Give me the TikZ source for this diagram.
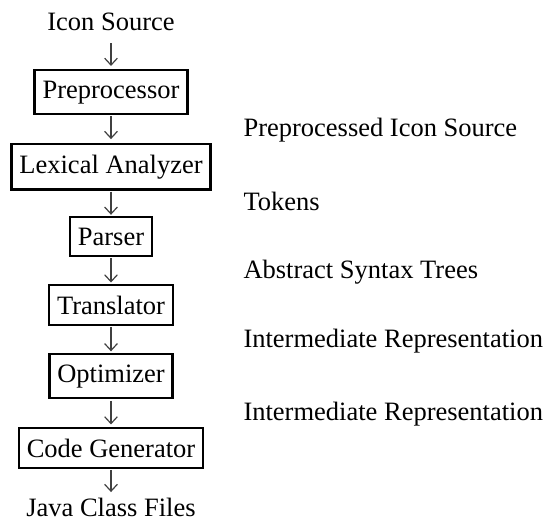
\documentclass[tikz,border=0pt]{standalone}
\usepackage{fontspec}
\setmainfont{Liberation Serif}
\usetikzlibrary{arrows.meta}
\begin{document}
\begin{tikzpicture}[x=0.3774pt,y=-0.3774pt,
  every node/.style={font=\fontsize{10}{12}\selectfont},
  stage/.style={draw,line width=0.9pt,inner xsep=3pt,inner ysep=4pt,anchor=base},
  plain/.style={inner sep=0pt,anchor=base},
  note/.style={inner sep=0pt,anchor=base west},
  flow/.style={-{Straight Barb[length=2.6pt,width=4.8pt]},line width=0.45pt,black!75}]
\useasboundingbox (0,0) rectangle (547,523);
% main column
\node[plain] (src) at (111,31) {Icon Source};
\node[stage] (pre) at (111,98) {Preprocessor};
\node[stage] (lex) at (111,173) {Lexical Analyzer};
\node[stage] (par) at (111,245) {Parser};
\node[stage] (tra) at (111,314) {Translator};
\node[stage] (opt) at (111,382) {Optimizer};
\node[stage] (gen) at (111,457) {Code Generator};
\node[plain] (out) at (111,516) {Java Class Files};
% side labels
\node[note] (l1) at (243,136) {Preprocessed Icon Source};
\node[note] (l2) at (243,210) {Tokens};
\node[note] (l3) at (243,278) {Abstract Syntax Trees};
\node[note] (l4) at (243,347) {Intermediate Representation};
\node[note] (l5) at (243,420) {Intermediate Representation};
% connectors
\draw[flow,shorten <=4.3pt,shorten >=1.1pt] (src) -- (pre);
\draw[flow,shorten <=0.4pt,shorten >=1.4pt] (pre) -- (lex);
\draw[flow,shorten <=0.4pt,shorten >=0.4pt] (lex) -- (par);
\draw[flow,shorten <=0.5pt,shorten >=0.5pt] (par) -- (tra);
\draw[flow,shorten <=0.5pt,shorten >=0.5pt] (tra) -- (opt);
\draw[flow,shorten <=0.5pt,shorten >=0.9pt] (opt) -- (gen);
\draw[flow,shorten <=0.3pt,shorten >=1.9pt] (gen) -- (out);
\end{tikzpicture}
\end{document}
